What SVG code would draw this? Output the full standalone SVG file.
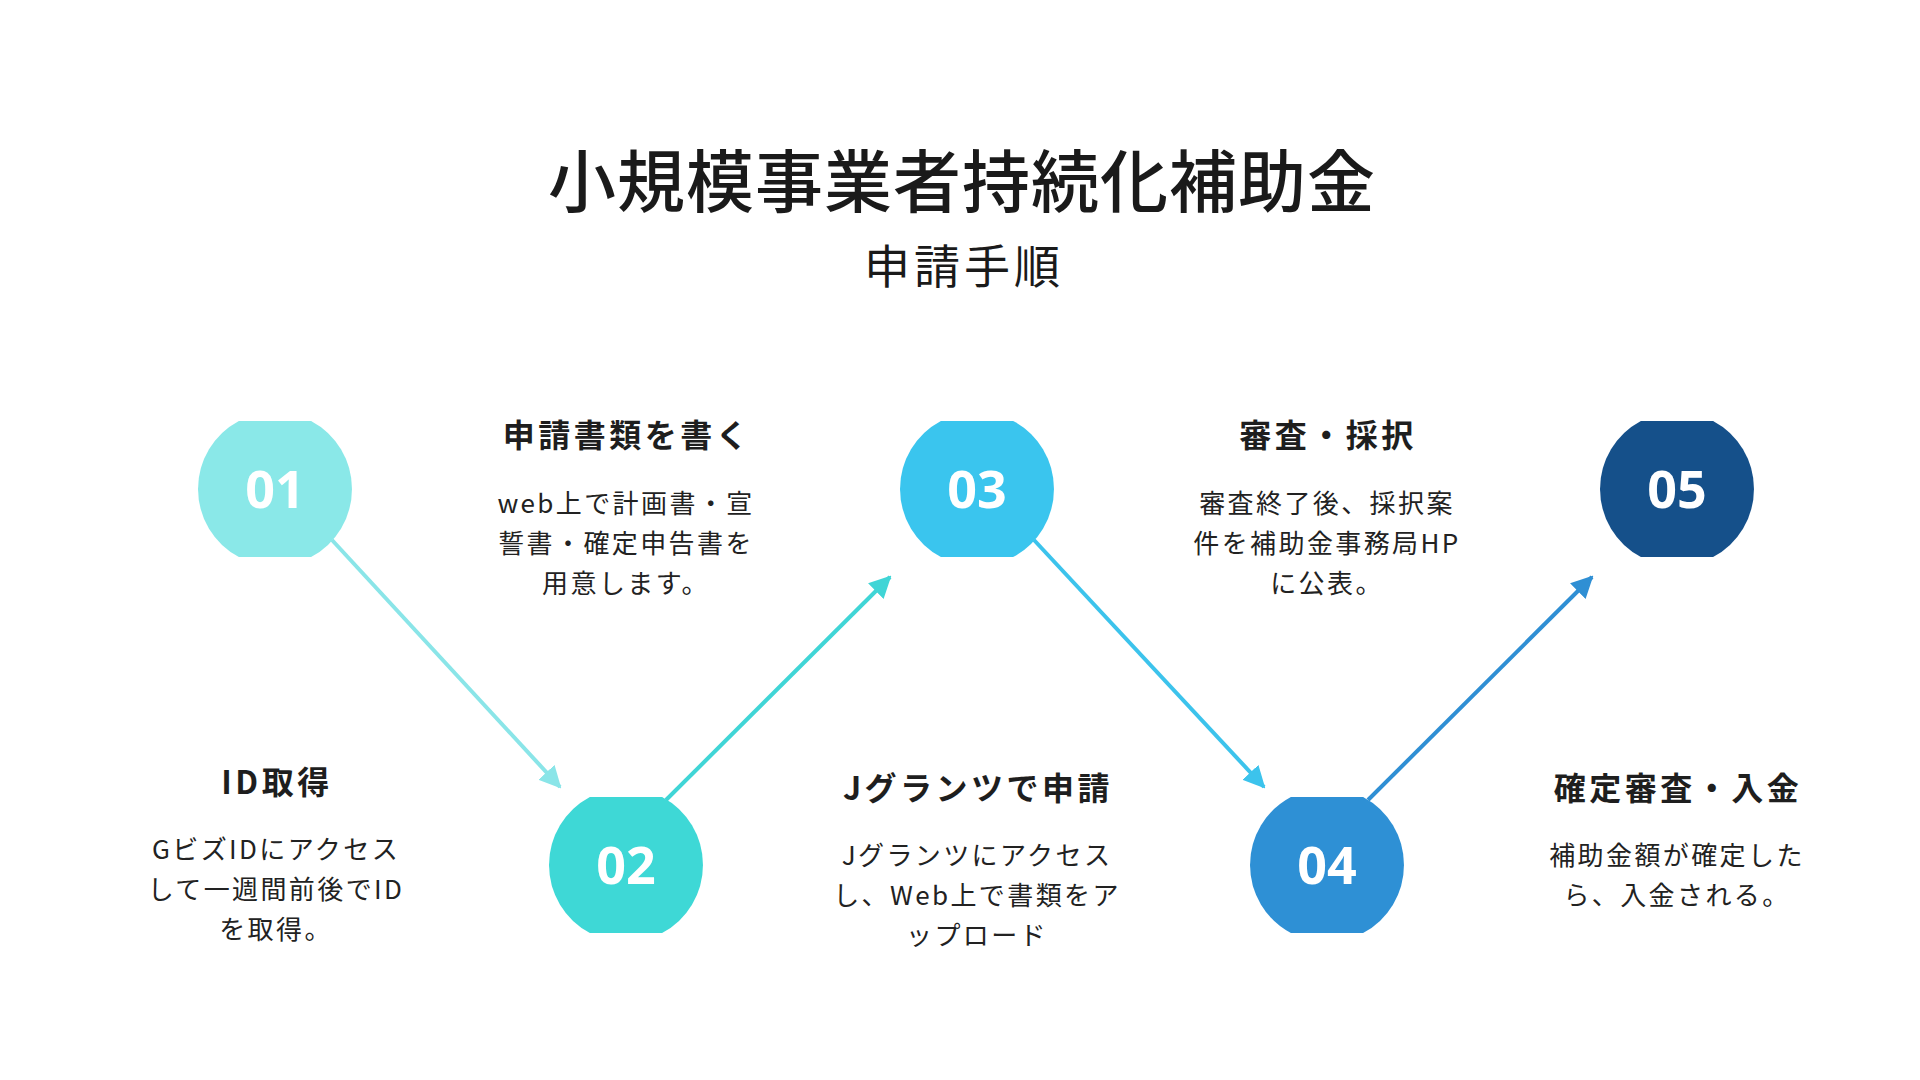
<svg xmlns="http://www.w3.org/2000/svg" xmlns:xlink="http://www.w3.org/1999/xlink" width="1920" height="1080" viewBox="0 0 1920 1080">
  <style>
    .title { font-family: "Noto Sans CJK JP", "Noto Sans", sans-serif; font-size: 68px; font-weight: 500; fill: #1a1a1a; text-anchor: middle; letter-spacing: 1px; }
    .subtitle { font-family: "Noto Sans CJK JP", "Noto Sans", sans-serif; font-size: 46px; font-weight: 400; fill: #1a1a1a; text-anchor: middle; letter-spacing: 4px; }
    .num { font-family: "Open Sans", "Noto Sans", sans-serif; font-size: 52px; font-weight: 700; fill: #ffffff; text-anchor: middle; }
    .head { font-family: "Noto Sans CJK JP", "Noto Sans", sans-serif; font-size: 32px; font-weight: 700; fill: #1e1e1e; text-anchor: middle; letter-spacing: 3.5px; }
    .body { font-family: "Noto Sans CJK JP", "Noto Sans", sans-serif; font-size: 26px; font-weight: 400; fill: #222222; text-anchor: middle; letter-spacing: 2.4px; }
    .conn { fill: none; stroke-width: 4; }
  </style>
  <defs>
    <path id="badge" d="M -36.1,-68 H 36.1 A 77 77 0 0 1 36.1,68 H -36.1 A 77 77 0 0 1 -36.1,-68 Z"/>
    <marker id="ah1" viewBox="0 0 22 22" refX="20" refY="11" markerWidth="22" markerHeight="22" markerUnits="userSpaceOnUse" orient="auto">
      <path d="M0,0 L22,11 L0,22 Z" fill="#8ae5e8"/>
    </marker>
    <marker id="ah2" viewBox="0 0 22 22" refX="20" refY="11" markerWidth="22" markerHeight="22" markerUnits="userSpaceOnUse" orient="auto">
      <path d="M0,0 L22,11 L0,22 Z" fill="#40d5d6"/>
    </marker>
    <marker id="ah3" viewBox="0 0 22 22" refX="20" refY="11" markerWidth="22" markerHeight="22" markerUnits="userSpaceOnUse" orient="auto">
      <path d="M0,0 L22,11 L0,22 Z" fill="#3cc3ec"/>
    </marker>
    <marker id="ah4" viewBox="0 0 22 22" refX="20" refY="11" markerWidth="22" markerHeight="22" markerUnits="userSpaceOnUse" orient="auto">
      <path d="M0,0 L22,11 L0,22 Z" fill="#2f8fd4"/>
    </marker>
  </defs>

  <rect width="1920" height="1080" fill="#ffffff"/>

  <g id="title">
    <text class="title" x="962" y="207">小規模事業者持続化補助金</text>
    <text class="subtitle" x="964" y="283">申請手順</text>
  </g>

  <g id="connectors">
    <line class="conn" x1="332" y1="540" x2="560" y2="787" stroke="#8ae5e8" marker-end="url(#ah1)"/>
    <line class="conn" x1="666" y1="800" x2="890" y2="577" stroke="#40d5d6" marker-end="url(#ah2)"/>
    <line class="conn" x1="1034" y1="540" x2="1264" y2="787" stroke="#3cc3ec" marker-end="url(#ah3)"/>
    <line class="conn" x1="1368" y1="800" x2="1592" y2="577" stroke="#2f8fd4" marker-end="url(#ah4)"/>
  </g>

  <g id="step-01">
    <use xlink:href="#badge" href="#badge" x="275" y="489" fill="#8ae8e8"/>
    <text class="num" x="275" y="508">01</text>
    <text class="head" x="277" y="794">ID取得</text>
    <text class="body" x="276" y="859">GビズIDにアクセス</text>
    <text class="body" x="276" y="899">して一週間前後でID</text>
    <text class="body" x="276" y="939">を取得。</text>
  </g>

  <g id="step-02">
    <use xlink:href="#badge" href="#badge" x="626" y="865" fill="#3ed8d6"/>
    <text class="num" x="626" y="884">02</text>
    <text class="head" x="627" y="447">申請書類を書く</text>
    <text class="body" x="626" y="513">web上で計画書・宣</text>
    <text class="body" x="626" y="553">誓書・確定申告書を</text>
    <text class="body" x="626" y="593">用意します。</text>
  </g>

  <g id="step-03">
    <use xlink:href="#badge" href="#badge" x="977" y="489" fill="#3ac5ee"/>
    <text class="num" x="977" y="508">03</text>
    <text class="head" x="978" y="800">Jグランツで申請</text>
    <text class="body" x="977" y="865">Jグランツにアクセス</text>
    <text class="body" x="977" y="905">し、Web上で書類をア</text>
    <text class="body" x="977" y="945">ップロード</text>
  </g>

  <g id="step-04">
    <use xlink:href="#badge" href="#badge" x="1327" y="865" fill="#2e90d5"/>
    <text class="num" x="1327" y="884">04</text>
    <text class="head" x="1328" y="447">審査・採択</text>
    <text class="body" x="1327" y="513">審査終了後、採択案</text>
    <text class="body" x="1327" y="553">件を補助金事務局HP</text>
    <text class="body" x="1327" y="593">に公表。</text>
  </g>

  <g id="step-05">
    <use xlink:href="#badge" href="#badge" x="1677" y="489" fill="#15508a"/>
    <text class="num" x="1677" y="508">05</text>
    <text class="head" x="1678" y="800">確定審査・入金</text>
    <text class="body" x="1677" y="865">補助金額が確定した</text>
    <text class="body" x="1677" y="905">ら、入金される。</text>
  </g>
</svg>
